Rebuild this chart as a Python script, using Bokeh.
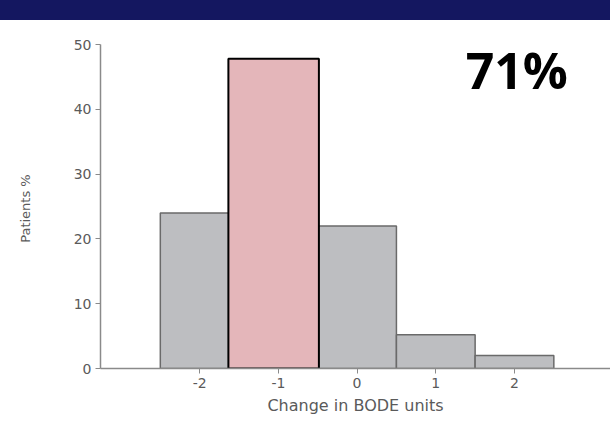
from bokeh.plotting import figure
from bokeh.models import Label, FixedTicker, Range1d, Div
from bokeh.layouts import column
from bokeh.embed import file_html
from bokeh.resources import INLINE

# Data
change_units = [-2, 0, 1, 2]
patients_pct = [24.0, 22.0, 5.2, 2.0]
highlight_unit = [-1.06]
highlight_pct = [47.8]
x_ticks = [-2, -1, 0, 1, 2]
x_tick_labels = ["-2", "-1", "0", "1", "2"]
y_ticks = [0, 10, 20, 30, 40, 50]
headline = "71%"

band = Div(width=610, height=20, margin=0, styles={"background-color": "#141760"})

p = figure(width=610, height=399, output_backend="svg", toolbar_location=None,
           x_range=Range1d(-3.26, 3.22), y_range=Range1d(0, 50),
           min_border_left=100, min_border_right=0, min_border_top=24, min_border_bottom=51,
           margin=0)
p.outline_line_color = None
p.xgrid.grid_line_color = None
p.ygrid.grid_line_color = None
p.background_fill_color = "white"
p.border_fill_color = "white"

p.vbar(x=change_units, top=patients_pct, width=1.0, bottom=0,
       fill_color="#bdbec1", line_color="#6a6a6a", line_width=1.5)
p.vbar(x=highlight_unit, top=highlight_pct, width=1.15, bottom=0,
       fill_color="#e4b6ba", line_color="black", line_width=2)

for ax in (p.xaxis[0], p.yaxis[0]):
    ax.axis_line_color = "#8a8a8a"
    ax.axis_line_width = 1.5
    ax.major_tick_line_color = "#8a8a8a"
    ax.major_tick_out = 5
    ax.major_tick_in = 0
    ax.minor_tick_line_color = None
    ax.major_label_text_font = "DejaVu Sans"
    ax.major_label_text_font_size = "14px"
    ax.major_label_text_color = "#5a5a5a"
    ax.major_label_standoff = 4
    ax.axis_label_text_font = "DejaVu Sans"
    ax.axis_label_text_font_style = "normal"
    ax.axis_label_text_color = "#5a5a5a"

p.xaxis.ticker = FixedTicker(ticks=x_ticks)
p.xaxis.major_label_overrides = {t: s for t, s in zip(x_ticks, x_tick_labels)}
p.yaxis.ticker = FixedTicker(ticks=y_ticks)
p.xaxis.axis_label = "Change in BODE units"
p.xaxis.axis_label_text_font_size = "16px"
p.xaxis.axis_label_standoff = 5
p.yaxis.axis_label = "Patients  %"
p.yaxis.axis_label_text_font_size = "13px"
p.yaxis.axis_label_standoff = 38

p.add_layout(Label(x=1.38, y=46.0, text=headline, text_font="Open Sans",
                   text_font_size="50px", text_font_style="bold", text_color="black",
                   text_baseline="alphabetic", text_align="left"))

layout = column(band, p, spacing=0)
open("out.html", "w").write(file_html(layout, INLINE))
